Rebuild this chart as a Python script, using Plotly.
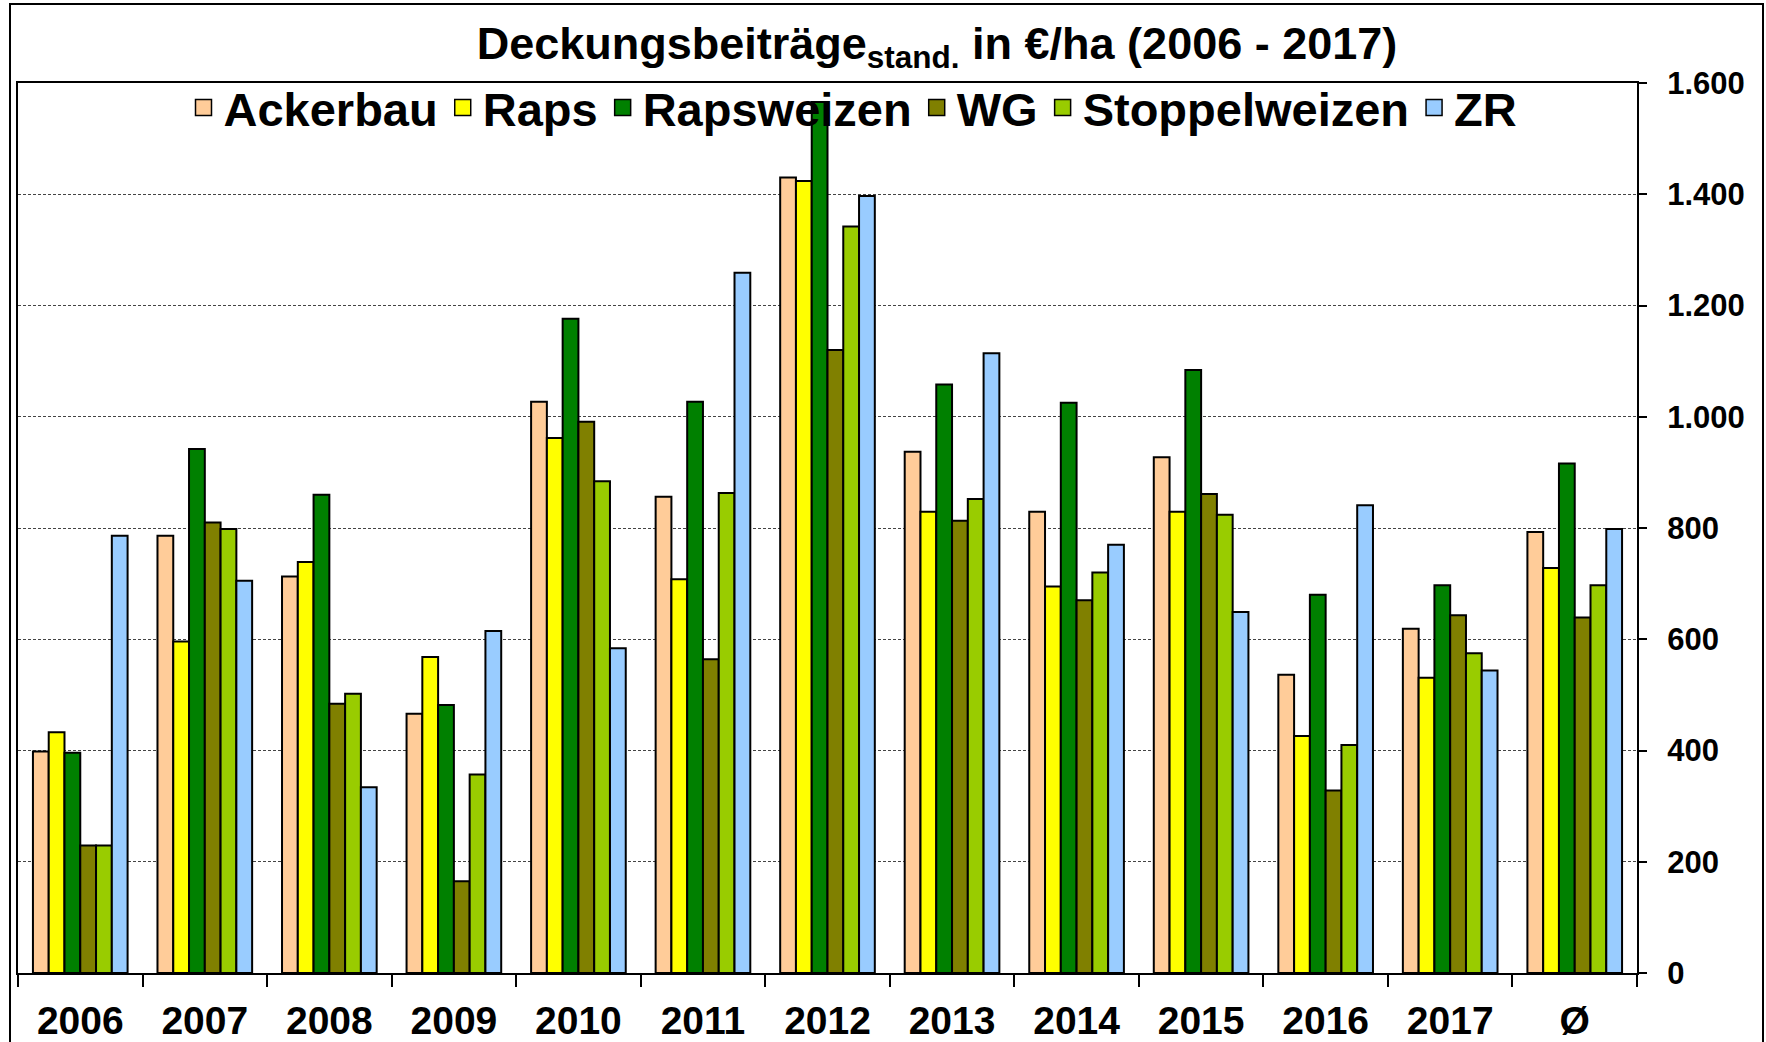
import plotly.graph_objects as go

categories = ["2006", "2007", "2008", "2009", "2010", "2011", "2012",
              "2013", "2014", "2015", "2016", "2017", "Ø"]

ackerbau = [398, 786, 713, 466, 1027, 856, 1430, 937, 829, 927, 536, 619, 793]
raps = [433, 596, 739, 568, 962, 708, 1424, 829, 695, 829, 426, 531, 728]
rapsweizen = [396, 942, 860, 482, 1176, 1027, 1566, 1058, 1025, 1084, 680, 697, 916]
wg = [229, 810, 484, 165, 991, 564, 1120, 813, 670, 861, 328, 643, 639]
stoppelweizen = [229, 798, 502, 357, 884, 863, 1342, 852, 720, 824, 410, 575, 697]
zr = [786, 705, 334, 615, 584, 1259, 1397, 1114, 770, 649, 841, 544, 798]

series_names = ["Ackerbau", "Raps", "Rapsweizen", "WG", "Stoppelweizen", "ZR"]
series_values = [ackerbau, raps, rapsweizen, wg, stoppelweizen, zr]
series_colors = ["#FFCC99", "#FFFF00", "#008000", "#808000", "#99CC00", "#99CCFF"]

FONT = "Arial, Liberation Sans, sans-serif"
W, H = 1766, 1042
PL, PR, PT, PB = 18, 1637, 83, 973  # plot area edges (pixels)

fig = go.Figure()
for name, vals, col in zip(series_names, series_values, series_colors):
    fig.add_trace(go.Bar(
        x=categories, y=vals, name=name, showlegend=False,
        marker=dict(color=col, line=dict(color="black", width=2)),
    ))
# legend entries (square swatches)
for name, col in zip(series_names, series_colors):
    fig.add_trace(go.Scatter(
        x=[None], y=[None], mode="markers", name=name,
        marker=dict(symbol="square", size=16, color=col,
                    line=dict(color="black", width=1.5)),
    ))

pw, ph = PR - PL, PB - PT

fig.update_layout(
    width=W, height=H,
    margin=dict(l=PL, r=W - PR, t=PT, b=H - PB, autoexpand=False),
    paper_bgcolor="white", plot_bgcolor="white",
    barmode="group", bargap=0.24, bargroupgap=0,
    separators=",.",
    font=dict(family=FONT, color="black"),
    title=dict(
        text="<b>Deckungsbeiträge<sub>stand.</sub> in €/ha (2006 - 2017)</b>",
        x=937 / W, xanchor="center", xref="container",
        y=1 - 43 / H, yanchor="middle", yref="container",
        font=dict(size=45, family=FONT, color="black"),
    ),
    legend=dict(
        orientation="h", x=(853 - PL) / pw, xanchor="center", y=0.972, yanchor="middle",
        bgcolor="rgba(0,0,0,0)", font=dict(size=47, family=FONT, weight="bold"),
        itemsizing="trace", tracegroupgap=0, itemwidth=30,
    ),
    xaxis=dict(
        type="category", showline=True, linecolor="black", linewidth=2, mirror=True,
        ticks="outside", tickson="boundaries", ticklen=12, tickwidth=2, tickcolor="black",
        tickfont=dict(size=39, family=FONT, weight="bold"),
        ticklabelstandoff=12, automargin=False,
        showgrid=False,
    ),
    yaxis=dict(
        range=[0, 1600], side="right", dtick=200, tickformat=",d",
        showline=True, linecolor="black", linewidth=2, mirror=True,
        ticks="outside", ticklen=8, tickwidth=2, tickcolor="black",
        tickfont=dict(size=31, family=FONT, weight="bold"),
        ticklabelstandoff=14, automargin=False,
        showgrid=True, gridcolor="#444444", gridwidth=1, griddash="3px,2px",
        zeroline=False,
    ),
    shapes=[dict(
        type="rect", xref="paper", yref="paper",
        x0=(10 - PL) / pw, x1=(1763 - PL) / pw,
        y0=(PB - 1060) / ph, y1=(PB - 4) / ph,
        line=dict(color="black", width=2), fillcolor="rgba(0,0,0,0)", layer="below",
    )],
)

fig.write_html(
    "out.html",
    config={"displayModeBar": False},
    post_script="document.body.style.margin='0px';document.body.style.overflow='hidden';",
)
